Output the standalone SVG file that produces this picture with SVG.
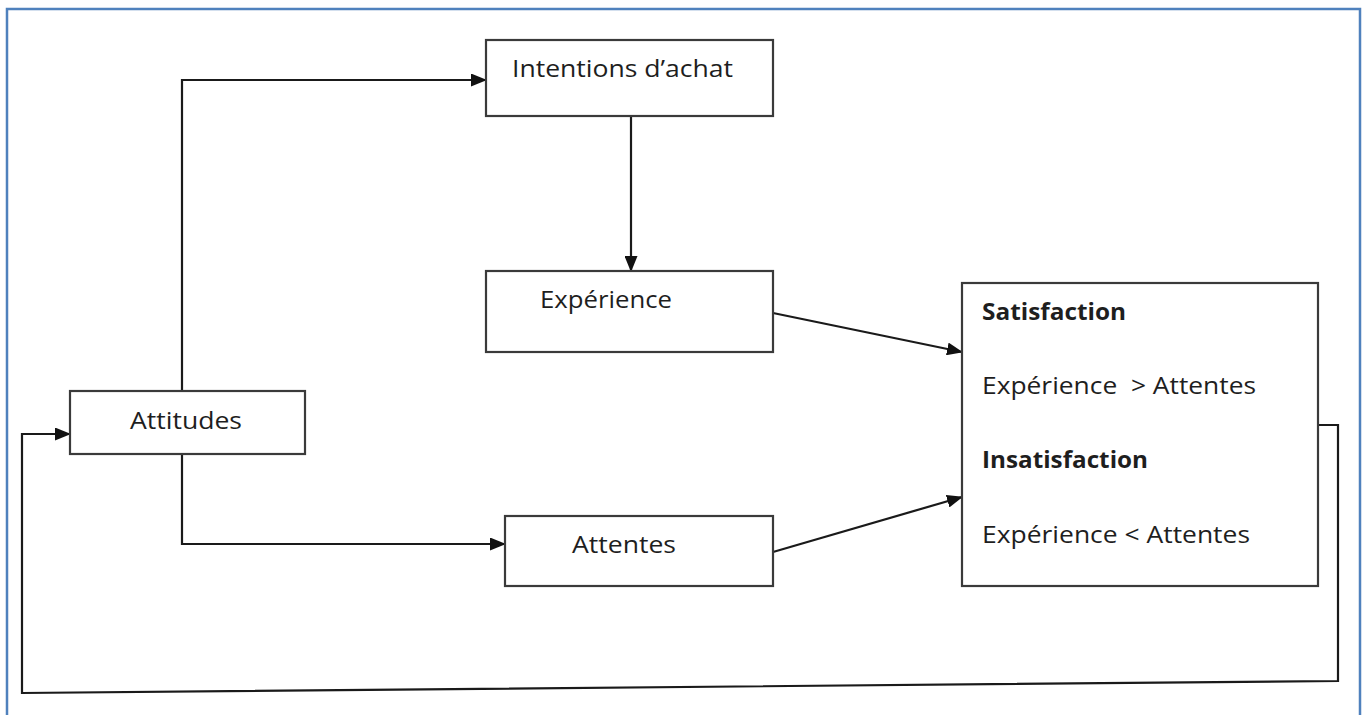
<svg xmlns="http://www.w3.org/2000/svg" width="1367" height="715" viewBox="0 0 1367 715">
  <style>
    .box { fill: #ffffff; stroke: #3a3a3a; stroke-width: 2.2; }
    .lbl { font-family: "Open Sans", "Liberation Sans", sans-serif; font-size: 24px; fill: #1e1e1e; }
    .bold { font-weight: bold; }
    .wire { fill: none; stroke: #1a1a1a; stroke-width: 2.2; }
  </style>
  <defs>
    <marker id="arrow" markerUnits="userSpaceOnUse" markerWidth="16" markerHeight="13" refX="15" refY="6.5" orient="auto">
      <path d="M0,0 L16,6.5 L0,13 z" fill="#111111"/>
    </marker>
  </defs>

  <rect width="1367" height="715" fill="#ffffff"/>
  <!-- outer frame -->
  <path d="M7,715 V9 H1360 V715" fill="none" stroke="#4f81bd" stroke-width="2.5"/>

  <g id="connectors">
    <path class="wire" d="M182,391 V80 H486" marker-end="url(#arrow)"/>
    <path class="wire" d="M182,454 V544 H505" marker-end="url(#arrow)"/>
    <path class="wire" d="M631,116 V271" marker-end="url(#arrow)"/>
    <path class="wire" d="M773,313 L962,352" marker-end="url(#arrow)"/>
    <path class="wire" d="M773,552 L962,497" marker-end="url(#arrow)"/>
    <path class="wire" d="M1318,425 H1338 V681 L22,693 V434 H70" marker-end="url(#arrow)"/>
  </g>

  <g id="intentions">
    <rect class="box" x="486" y="40" width="287" height="76"/>
    <text class="lbl" x="512" y="77" textLength="221" lengthAdjust="spacingAndGlyphs">Intentions d’achat</text>
  </g>

  <g id="experience">
    <rect class="box" x="486" y="271" width="287" height="81"/>
    <text class="lbl" x="540" y="308" textLength="132" lengthAdjust="spacingAndGlyphs">Expérience</text>
  </g>

  <g id="attitudes">
    <rect class="box" x="70" y="391" width="235" height="63"/>
    <text class="lbl" x="130" y="429" textLength="112" lengthAdjust="spacingAndGlyphs">Attitudes</text>
  </g>

  <g id="attentes">
    <rect class="box" x="505" y="516" width="268" height="70"/>
    <text class="lbl" x="572" y="553" textLength="104" lengthAdjust="spacingAndGlyphs">Attentes</text>
  </g>

  <g id="satisfaction">
    <rect class="box" x="962" y="283" width="356" height="303"/>
    <text class="lbl bold" x="982" y="320" textLength="144" lengthAdjust="spacingAndGlyphs">Satisfaction</text>
    <text class="lbl" x="982" y="394" textLength="274" lengthAdjust="spacingAndGlyphs" xml:space="preserve">Expérience  &gt; Attentes</text>
    <text class="lbl bold" x="982" y="468" textLength="166" lengthAdjust="spacingAndGlyphs">Insatisfaction</text>
    <text class="lbl" x="982" y="543" textLength="268" lengthAdjust="spacingAndGlyphs">Expérience &lt; Attentes</text>
  </g>
</svg>
